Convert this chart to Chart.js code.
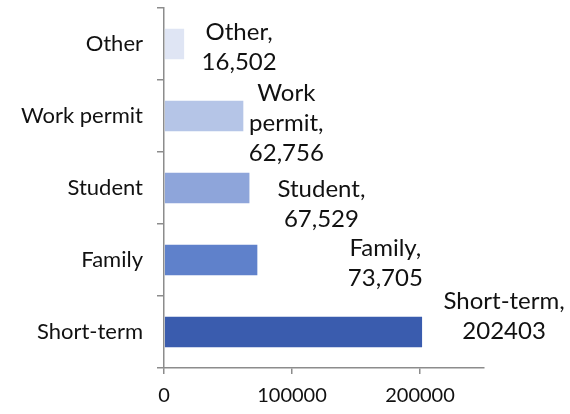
<!DOCTYPE html>
<html>
<head>
<meta charset="utf-8">
<script src="https://cdn.jsdelivr.net/npm/chart.js@4/dist/chart.umd.min.js"></script>
<style>
  html, body { margin: 0; padding: 0; background: #fff; }
  #wrap { width: 570px; height: 414px; }
</style>
</head>
<body>
<div id="wrap"><canvas id="visa-chart" width="570" height="414"></canvas></div>
<script>
// categories, top to bottom
const categories = ['Other', 'Work permit', 'Student', 'Family', 'Short-term'];
const counts = [16502, 62756, 67529, 73705, 202403];
const labelLines = [
  ['Other,', '16,502'],
  ['Work', 'permit,', '62,756'],
  ['Student,', '67,529'],
  ['Family,', '73,705'],
  ['Short-term,', '202403']
];
const xTicks = [0, 100000, 200000];

const barColors = ['#dfe5f4', '#b5c5e7', '#8ea5da', '#5f81cb', '#3a5cae'];
// label placement relative to the end of each bar, in pixels
const labelShift = [[54, 3], [42, 7], [71, 16], [127, 3], [81, -16]];

const canvas = document.getElementById('visa-chart');
const ctx = canvas.getContext('2d');

const barLabels = {
  id: 'barLabels',
  afterDatasetsDraw(chart) {
    const c = chart.ctx;
    const meta = chart.getDatasetMeta(0);
    c.save();
    c.font = '24px Lato, "Open Sans", sans-serif';
    c.fillStyle = '#111';
    c.textAlign = 'center';
    c.textBaseline = 'middle';
    const lh = 30;
    meta.data.forEach(function(bar, i) {
      const lines = labelLines[i];
      const cx = bar.x + labelShift[i][0];
      const cy = bar.y + labelShift[i][1];
      const top = cy - (lines.length - 1) * lh / 2;
      lines.forEach(function(t, j) {
        c.fillText(t, cx, top + j * lh);
      });
    });
    c.restore();
  }
};

new Chart(ctx, {
  type: 'bar',
  data: {
    labels: categories,
    datasets: [{
      data: counts,
      backgroundColor: barColors,
      borderColor: '#ffffff',
      borderWidth: 1,
      barPercentage: 0.45,
      categoryPercentage: 1
    }]
  },
  options: {
    indexAxis: 'y',
    responsive: false,
    animation: false,
    layout: { padding: { top: 8, right: 86, bottom: 0, left: 0 } },
    plugins: {
      legend: { display: false },
      tooltip: { enabled: false }
    },
    scales: {
      x: {
        min: 0,
        max: 250000,
        afterBuildTicks: function(scale) {
          scale.ticks = xTicks.map(v => ({ value: v }));
        },
        afterFit: function(scale) { scale.height = 46; },
        grid: {
          drawOnChartArea: false,
          drawTicks: true,
          tickLength: 6,
          color: '#8c8c8c',
          lineWidth: 1.5
        },
        border: { color: '#8c8c8c', width: 1.5 },
        ticks: {
          color: '#111',
          padding: 10,
          maxRotation: 0,
          callback: v => String(v),
          font: { family: 'Lato, "Open Sans", sans-serif', size: 20 }
        }
      },
      y: {
        offset: true,
        afterFit: function(scale) {
          scale.width = 164;
          scale.paddingTop = 0;
          scale.paddingBottom = 0;
        },
        grid: {
          offset: true,
          drawOnChartArea: false,
          tickLength: 7,
          color: '#8c8c8c',
          lineWidth: 1.5
        },
        border: { color: '#8c8c8c', width: 1.5 },
        ticks: {
          color: '#111',
          padding: 14,
          font: { family: 'Lato, "Open Sans", sans-serif', size: 22 }
        }
      }
    }
  },
  plugins: [barLabels]
});
</script>
</body>
</html>
